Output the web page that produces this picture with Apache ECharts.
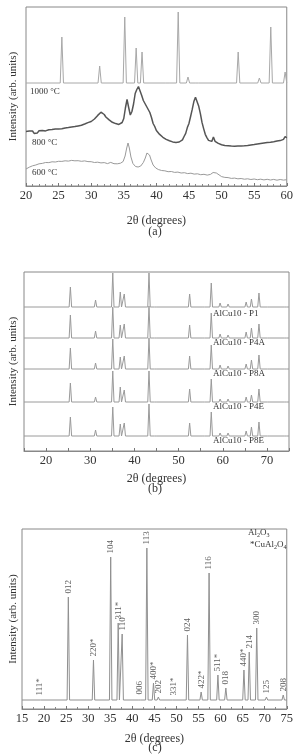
<!DOCTYPE html>
<html><head><meta charset="utf-8">
<script src="https://cdn.jsdelivr.net/npm/echarts@6/dist/echarts.min.js"></script>
<style>html,body{margin:0;padding:0;background:#fff;}#c{width:296px;height:754px;}</style>
</head><body><div id="c"></div>
<script>
// ---------- Panel (a) ----------
const aBase1000 = 103;
const aPeakPos1000 = [25.5, 31.3, 35.15, 36.9, 37.8, 41.7, 43.35, 44.85, 46.2, 52.55, 55.8, 57.55, 59.75];
const aPeakH1000   = [46,   17,   66,    35,   31,   1,    71,    6,     1.5,  31,    5,    56,    11];
const a800 = [[20,54.5],[20.25,52.8],[20.5,54.9],[20.75,53.2],[21,55],[21.25,52.6],[21.5,54.3],[21.75,53.1],[22,55.2],[22.25,53.4],[22.5,55.6],[22.75,53.9],[23,55.1],[23.25,54],[23.5,56.2],[23.75,54.3],[24,56.4],[24.25,54.8],[24.5,56.9],[24.75,55.2],[25,57],[25.25,55.4],[25.5,57.3],[25.75,55.9],[26,58],[26.25,56.1],[26.5,58.4],[26.75,57],[27,58.9],[27.25,57.2],[27.5,59.4],[27.75,58],[28,60.1],[28.25,58.6],[28.5,60.8],[28.75,59.9],[29,62],[29.25,61.2],[29.5,63.4],[29.75,62.6],[30,64.5],[30.25,64.8],[30.5,67],[30.75,68.1],[31,70.6],[31.25,71.4],[31.5,73.8],[31.75,71.9],[32,71.5],[32.25,69],[32.5,68.4],[32.75,66.1],[33,65.6],[33.25,63.7],[33.5,64.2],[33.75,62.4],[34,63.5],[34.25,61.6],[34.5,62.8],[34.75,63.5],[35,67.5],[35.25,78],[35.5,86.5],[35.75,78.5],[36,71],[36.25,74.5],[36.5,82],[36.75,92.5],[37,96.5],[37.25,99.5],[37.5,95],[37.75,90.5],[38,85.5],[38.25,83.5],[38.5,79.5],[38.75,79.5],[39,73.5],[39.25,68.5],[39.5,62.5],[39.75,59.5],[40,55.5],[40.25,54.2],[40.5,51.6],[40.75,50.8],[41,48.7],[41.25,48.1],[41.5,46.6],[41.75,46.9],[42,45.2],[42.25,45.9],[42.5,44.1],[42.75,45],[43,43.6],[43.25,44.8],[43.5,44],[43.75,45.9],[44,46.2],[44.25,49.5],[44.5,52.6],[44.75,58.4],[45,62.6],[45.25,69.5],[45.5,76.6],[45.75,84.4],[46,88.8],[46.25,87.3],[46.5,79.7],[46.75,72.4],[47,63.6],[47.25,57.4],[47.5,51.7],[47.75,48.4],[48,45.6],[48.25,45.4],[48.5,44.6],[48.75,49],[49,44.7],[49.25,44.2],[49.5,42.6],[49.75,42.9],[50,41.2],[50.25,42],[50.5,40.6],[50.75,41.8],[51,40.3],[51.25,41.5],[51.5,40],[51.75,41.2],[52,39.8],[52.25,41],[52.5,39.9],[52.75,41.3],[53,40],[53.25,41.4],[53.5,40.2],[53.75,41.7],[54,40.5],[54.25,42],[54.5,41],[54.75,42.5],[55,41.4],[55.25,43],[55.5,41.9],[55.75,43.4],[56,42.4],[56.25,44],[56.5,42.9],[56.75,44.3],[57,43.4],[57.25,45],[57.5,43.8],[57.75,45.4],[58,44.3],[58.25,46],[58.5,44.9],[58.75,46.4],[59,45.4],[59.25,47],[59.5,46.6],[59.75,49.5],[60,48.2]];
const a600 = [[20,17],[20.5,18.8],[21,20.2],[21.5,21],[22,22.2],[22.5,22.6],[23,23.5],[23.5,23.4],[24,24.2],[24.5,24],[25,24.7],[25.5,24.6],[26,25.2],[26.5,24.9],[27,25.6],[27.5,25.2],[28,25.3],[28.5,24.7],[29,25.1],[29.5,24.4],[30,24.3],[30.5,23.5],[31,23.8],[31.5,23.1],[32,23.4],[32.5,22.4],[33,23.6],[33.5,22.3],[34,22.2],[34.5,22.8],[34.9,24.5],[35.2,30],[35.45,38],[35.65,43],[35.85,38],[36.1,29],[36.4,22.5],[36.8,19.5],[37.2,19],[37.6,20],[38,23.5],[38.3,28],[38.55,33],[38.75,34],[38.95,31],[39.2,26],[39.5,21],[39.9,18],[40.3,16.5],[40.8,15.5],[41.3,15.2],[41.8,14.3],[42.3,14.5],[42.8,13.6],[43.3,13.9],[43.8,13],[44.3,13.3],[44.8,12.4],[45.3,12.8],[45.8,11.9],[46.3,12.2],[46.8,11.3],[47.3,11.7],[47.8,10.9],[48.3,11.6],[48.7,13.5],[48.95,15.5],[49.2,13],[49.5,11],[50,9.4],[50.5,8.6],[51,8.4],[51.5,7.6],[52,7.9],[52.5,7.2],[53,7.5],[53.5,6.8],[54,7.2],[54.5,6.5],[55,7],[55.5,6.3],[56,6.8],[56.5,6.1],[57,6.7],[57.5,6],[58,6.6],[58.5,5.8],[59,6.5],[59.5,5.9],[60,6.3]];
const aTickMin = 20, aTickMax = 60;

// ---------- Panel (b) ----------
const bPeakPos = [25.5, 31.2, 35.1, 36.8, 37.7, 43.3, 44.8, 52.5, 55.6, 57.4, 59.4, 61.2, 65.3, 66.5, 68.2, 70.4, 74.2];
const bNames = ['AlCu10 - P1', 'AlCu10 - P4A', 'AlCu10 - P8A', 'AlCu10 - P4E', 'AlCu10 - P8E'];
const bBase = [144, 113, 82, 49, 15];
const bP1  = [20, 7, 34, 15, 13, 34, 2, 13, 2, 24, 4, 3, 5, 8, 14, 1, 1];
const bP4A = [23, 7, 31, 13, 14, 32, 2, 13, 2, 25, 4, 3, 6, 10, 14, 1, 1];
const bP8A = [21, 6, 30, 12, 13, 31, 2, 13, 2, 24, 4, 3, 5, 9, 14, 1, 1];
const bP4E = [19, 5, 31, 15, 12, 31, 2, 13, 2, 23, 3, 3, 5, 7, 13, 1, 1];
const bP8E = [19, 6, 29, 12, 13, 32, 2, 13, 2, 24, 3, 3, 5, 9, 14, 1, 1];

// ---------- Panel (c) ----------
const cBase = 9;
const cPeakPos = [18.9, 25.5, 31.2, 35.1, 36.8, 37.7, 41.6, 43.3, 44.8, 45.9, 49.4, 52.5, 55.6, 57.4, 59.4, 61.2, 65.3, 66.5, 68.2, 70.4, 74.2];
const cHeights = [1, 103, 40, 143, 77, 66, 2, 152, 17, 3, 1, 65, 8, 127, 25, 12, 30, 48, 72, 3, 5];
const cLabels  = ['111*','012','220*','104','311*','110','006','113','400*','202','331*','024','422*','116','511*','018','440*','214','300','125','208'];

// ---------- build ----------
function peakLine(base, pos, h, xmin, xmax, hw) {
  const d = [[xmin, base]];
  pos.forEach((p, i) => { d.push([p - hw, base], [p, base + h[i]], [p + hw, base]); });
  d.push([xmax, base]);
  return d;
}
const FONT = 'Liberation Serif';
const TXT = '#333';
function xAx(gi, min, max, interval, minorSplit, gap, fmt) {
  return {
    type: 'value', gridIndex: gi, min, max, interval,
    axisLine: { show: true, lineStyle: { color: '#888', width: 1 } },
    axisTick: { show: true, inside: true, length: 3, lineStyle: { color: '#777' } },
    minorTick: { show: minorSplit > 1, splitNumber: minorSplit, length: 2, lineStyle: { color: '#888' } },
    splitLine: { show: false },
    axisLabel: { color: TXT, fontFamily: FONT, fontSize: 12.5, margin: 3, formatter: fmt || (v => v) },
    name: '2\u03b8 (degrees)', nameLocation: 'middle', nameGap: gap,
    nameTextStyle: { color: TXT, fontFamily: FONT, fontSize: 12 }
  };
}
function yAx(gi, max, gap) {
  return {
    type: 'value', gridIndex: gi, min: 0, max,
    axisLine: { show: false }, axisTick: { show: false }, axisLabel: { show: false }, splitLine: { show: false },
    name: 'Intensity (arb. units)', nameLocation: 'middle', nameGap: gap,
    nameTextStyle: { color: TXT, fontFamily: FONT, fontSize: 11 }
  };
}
function line(xi, data, color, w) {
  return { type: 'line', xAxisIndex: xi, yAxisIndex: xi, data, symbol: 'none', silent: true,
    lineStyle: { color, width: w }, animation: false };
}
const series = [
  line(0, peakLine(aBase1000, aPeakPos1000, aPeakH1000, aTickMin, aTickMax, 0.25), '#a8a8a8', 1),
  line(0, a800, '#555555', 1.5),
  line(0, a600, '#9a9a9a', 1),
];
[bP1, bP4A, bP8A, bP4E, bP8E].forEach((h, i) => {
  series.push(line(1, peakLine(bBase[i], bPeakPos, h, 15, 75, 0.28), '#9a9a9a', 1));
});
series.push(line(2, peakLine(cBase, cPeakPos, cHeights, 15, 75, 0.28), '#909090', 1));
series.push({
  type: 'scatter', xAxisIndex: 2, yAxisIndex: 2, symbolSize: 1, silent: true, animation: false,
  itemStyle: { color: 'rgba(0,0,0,0)' },
  data: cPeakPos.map((p, i) => [p, cBase + cHeights[i]]),
  label: { show: true, position: 'top', distance: 3, rotate: 90, align: 'left', verticalAlign: 'middle',
    color: TXT, fontFamily: FONT, fontSize: 9, formatter: p => cLabels[p.dataIndex] }
});

const txt = (t, x, y, align, size) => ({ type: 'text', x, y, silent: true,
  style: { text: t, fill: TXT, font: (size || 9) + 'px "' + FONT + '"', align: align || 'left', verticalAlign: 'middle', textAlign: align || 'left', textVerticalAlign: 'middle' } });
const bLabelY = [314, 343, 374, 407, 441];
const graphic = [
  txt('1000 \u00b0C', 30, 92), txt('800 \u00b0C', 32, 143), txt('600 \u00b0C', 32, 173),
  txt('(a)', 155, 232, 'center', 12), txt('(b)', 155, 489, 'center', 12), txt('(c)', 155, 748, 'center', 12),
  ...bNames.map((n, i) => txt(n, 213, bLabelY[i])),
  { type: 'text', x: 248, y: 533, silent: true, style: { text: 'Al{s|2}O{s|3}', fill: TXT, font: '9px "' + FONT + '"', verticalAlign: 'middle',
    rich: { s: { fontSize: 6, fontFamily: FONT, fill: TXT, padding: [5, 0, 0, 0] } } } },
  { type: 'text', x: 250, y: 545, silent: true, style: { text: '*CuAl{s|2}O{s|4}', fill: TXT, font: '9px "' + FONT + '"', verticalAlign: 'middle',
    rich: { s: { fontSize: 6, fontFamily: FONT, fill: TXT, padding: [5, 0, 0, 0] } } } }
];

const chart = echarts.init(document.getElementById('c'), null, { renderer: 'canvas' });
chart.setOption({
  backgroundColor: '#fff',
  animation: false,
  grid: [
    { left: 21, top: 7, width: 268, height: 179, show: true, borderColor: '#888', borderWidth: 1 },
    { left: 20, top: 272, width: 269, height: 179, show: true, borderColor: '#888', borderWidth: 1 },
    { left: 17, top: 529, width: 273, height: 180, show: true, borderColor: '#888', borderWidth: 1 }
  ],
  xAxis: [
    xAx(0, 20, 60, 5, 5, 29),
    xAx(1, 15, 75, 5, 1, 22, v => (v % 10 === 0 && v >= 20 && v <= 70) ? v : ''),
    xAx(2, 15, 75, 5, 2, 24)
  ],
  yAxis: [yAx(0, 179, 7), yAx(1, 179, 5), yAx(2, 180, 3)],
  series,
  graphic
});
</script></body></html>
